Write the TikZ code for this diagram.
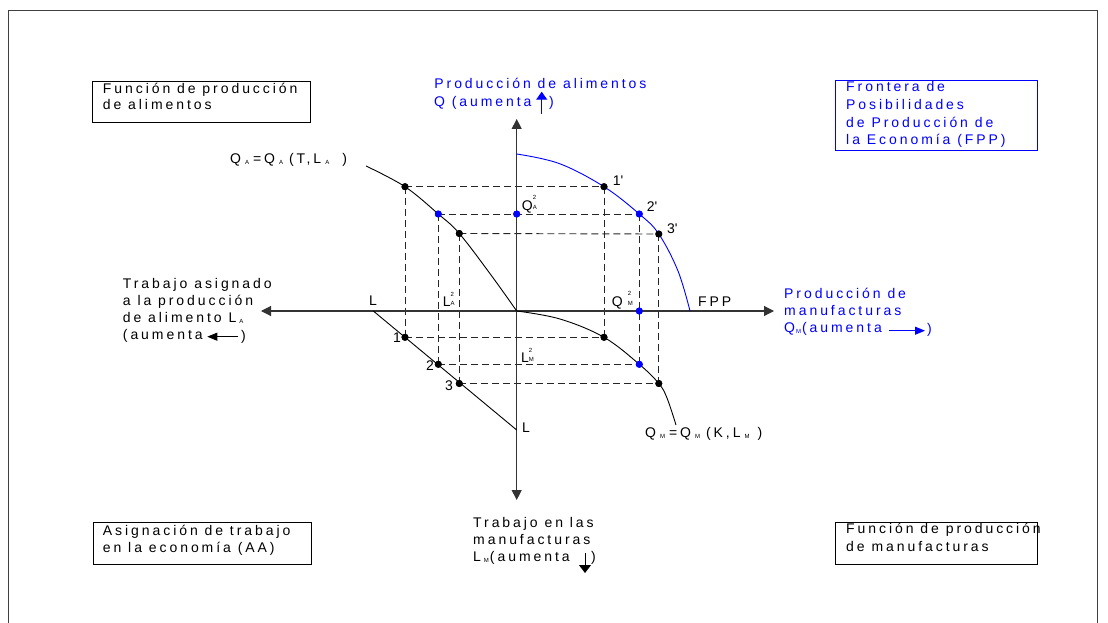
\documentclass[tikz,border=0pt]{standalone}
\usepackage{fontspec}
\setmainfont[LetterSpace=21]{Liberation Sans}
\usetikzlibrary{arrows.meta}
\definecolor{fppblue}{RGB}{0,0,255}
\newcommand\lo[1]{\raisebox{-1.5pt}{\fontsize{6}{6}\selectfont #1}}
\newcommand\ud[2]{\raisebox{1pt}{\fontsize{6}{6}\selectfont\shortstack[l]{#1\\[2.5pt]#2}}}
\newcommand\lns[1]{\begin{tabular}[t]{@{}l@{}}#1\end{tabular}}
\begin{document}
\begin{tikzpicture}[x=1pt,y=-1pt,
  txt/.style={anchor=base west,inner sep=0pt,font=\fontsize{14}{17}\selectfont},
  txtr/.style={anchor=base east,inner sep=0pt,font=\fontsize{14}{17}\selectfont},
  frame/.style={draw=black!75,line width=0.8pt},
  box/.style={draw=black,line width=0.9pt},
  axis/.style={draw=black!80,line width=1.1pt},
  guide/.style={draw=black!85,line width=0.9pt,dash pattern=on 7pt off 4pt},
  curve/.style={draw=black,line width=0.9pt},
  dot/.style={circle,fill=black,inner sep=0pt,minimum size=7pt},
  bdot/.style={circle,fill=fppblue,inner sep=0pt,minimum size=7pt}]
\useasboundingbox (0,0) rectangle (1108,623);
% outer frame
\draw[frame] (8,623) -- (8,10) -- (1097,10) -- (1097,623);
% boxes
\draw[box] (92.7,81) rectangle (310,122.7);
\draw[box,draw=fppblue] (835.7,80.7) rectangle (1037,150);
\draw[box] (93.3,522.3) rectangle (311,564);
\draw[box] (835.7,522.3) rectangle (1037,564);
% coordinates
\coordinate (O) at (516.7,311);
\coordinate (yt) at (516.7,119);
\coordinate (yb) at (516.7,500);
\coordinate (xl) at (261,311);
\coordinate (xr) at (774,311);
% dots (nodes)
\node[dot]  (a1) at (405,186.7) {};
\node[bdot] (a2) at (438.3,214) {};
\node[dot]  (a3) at (459.3,233.5) {};
\node[dot]  (f1) at (604,186.7) {};
\node[bdot] (f2) at (639.3,214) {};
\node[dot]  (f3) at (658.8,234) {};
\node[dot]  (l1) at (405,337.3) {};
\node[dot]  (l2) at (438.3,364.3) {};
\node[dot]  (l3) at (459.3,383.5) {};
\node[dot]  (m1) at (604,337.3) {};
\node[bdot] (m2) at (639.3,364.3) {};
\node[dot]  (m3) at (658.8,383.5) {};
\node[bdot] (qa) at (516.7,214) {};
\node[bdot] (qm) at (639.3,311) {};
% dashed guides
\draw[guide] (a1.center) -- (f1.center);
\draw[guide] (a2.center) -- (f2.center);
\draw[guide] (a3.center) -- (f3.center);
\draw[guide] (l1.center) -- (m1.center);
\draw[guide] (l2.center) -- (m2.center);
\draw[guide] (l3.center) -- (m3.center);
\draw[guide] (a1.center) -- (l1.center);
\draw[guide] (a2.center) -- (l2.center);
\draw[guide] (a3.center) -- (l3.center);
\draw[guide] (f1.center) -- (m1.center);
\draw[guide] (f2.center) -- (m2.center);
\draw[guide] (f3.center) -- (m3.center);
% axes
\draw[axis,{Triangle[length=10pt,width=10pt]}-{Triangle[length=10pt,width=10pt]}] (xl) -- (xr);
\draw[axis,{Triangle[length=10pt,width=10pt]}-{Triangle[length=10pt,width=10pt]}] (yb) -- (yt);
% curves
\draw[curve,draw=fppblue] plot[smooth,tension=0.6] coordinates {(516.7,154) (559.4,163.6) (604,186.7) (639.3,214) (658.8,234) (678,271) (690,311)};
\draw[curve] plot[smooth,tension=0.6] coordinates {(366,166) (405,186.7) (438.3,214) (459.3,233.5) (491,275) (516.7,311)};
\draw[curve] plot[smooth,tension=0.6] coordinates {(516.7,311) (560,319) (604,337.3) (639.3,364.3) (658.8,383.5) (667,398) (676,425)};
\coordinate (Lh) at (373.3,311);
\coordinate (Lv) at (516.7,430);
\draw[curve] (Lh) -- (Lv);
% redraw dots on top
\foreach \n in {a1,a3,f1,f3,l1,l2,l3,m1,m3} \fill (\n) circle (3.5pt);
\foreach \n in {a2,f2,m2,qa,qm} \fill[fppblue] (\n) circle (3.5pt);
% point labels
\node[txt] (p1) at (612.7,185) {1\textquotesingle};
\node[txt] (p2) at (646.7,211.7) {2\textquotesingle};
\node[txt] (p3) at (667,233) {3\textquotesingle};
\node[txt] (n1) at (393,342.7) {1};
\node[txt] (n2) at (426,370) {2};
\node[txt] (n3) at (445,390) {3};
\node[txt] (fpp) at (698,306) {FPP};
\node[txt] (Ll) at (369,305) {L};
\node[txt] (Lb) at (522,432) {L};
\node[txt] (LA) at (442.7,306.7) {L\ud{2}{A}};
\node[txt] (QM2) at (611.7,306) {Q\hspace{5pt}\ud{2}{M}};
\node[txt] (QA2) at (521.7,210) {Q\ud{2}{A}};
\node[txt] (LM2) at (521,362.7) {L\ud{2}{M}};
\node[txt] (fqa) at (230,163) {Q\hspace{4pt}\lo{A}\hspace{4pt}=Q\hspace{4pt}\lo{A}\hspace{6pt}(T,L\hspace{4pt}\lo{A}\hspace{13pt})};
\node[txt] (fqm) at (645,437) {Q\hspace{4pt}\lo{M}\hspace{4pt}=Q\hspace{4pt}\lo{M}\hspace{6pt}(K,L\hspace{4pt}\lo{M}\hspace{8pt})};
% box texts
\node[txt,font=\fontsize{14}{16}\selectfont] (t1) at (102.7,93.3) {\lns{Función de producción\\de alimentos}};
\node[txt,text=fppblue,font=\fontsize{14}{17.7}\selectfont] (t2) at (846,91.7) {\lns{Frontera de\\Posibilidades\\de Producción de\\la Economía (FPP)}};
\node[txt,font=\fontsize{14}{16.6}\selectfont] (t3) at (102.7,535.7) {\lns{Asignación de trabajo\\en la economía (AA)}};
\node[txt,font=\fontsize{14}{18}\selectfont] (t4) at (846,533) {\lns{Función de producción\\de manufacturas}};
% top centre label
\node[txtr,text=fppblue] (tc1) at (646.7,89) {Producción de alimentos};
\node[txtr,text=fppblue] (tc2) at (531.7,106.7) {Q (aumenta};
\node[txt,text=fppblue] (tc3) at (549,106.7) {)};
\coordinate (tca) at (541.7,114);
\coordinate (tcb) at (541.7,91.7);
\draw[fppblue,line width=0.9pt,-{Triangle[length=8pt,width=11pt]}] (tca) -- (tcb);
% left label
\node[txt] (lt) at (122.7,288) {\lns{Trabajo asignado\\a la producción\\de alimento L\hspace{3pt}\lo{A}\\(aumenta}};
\node[txt] (lt2) at (241,340) {)};
\coordinate (lta) at (238.3,336.7);
\coordinate (ltb) at (207.3,336.7);
\draw[line width=0.9pt,-{Triangle[length=10pt,width=8pt]}] (lta) -- (ltb);
% right label
\node[txt,text=fppblue] (rt) at (784,298) {\lns{Producción de\\manufacturas\\Q\hspace{1pt}\lo{M}\hspace{1pt}(aumenta}};
\node[txt,text=fppblue] (rt2) at (927,333) {)};
\coordinate (rta) at (889,330.7);
\coordinate (rtb) at (925,330.7);
\draw[fppblue,line width=0.9pt,-{Triangle[length=10pt,width=8pt]}] (rta) -- (rtb);
% bottom label
\node[txt,font=\fontsize{14}{16.7}\selectfont] (bt) at (473,527.7) {\lns{Trabajo en las\\manufacturas\\L\hspace{3pt}\lo{M}\hspace{1pt}(aumenta}};
\node[txt] (bt2) at (591,561) {)};
\coordinate (bta) at (585,553);
\coordinate (btb) at (585,573);
\draw[line width=0.9pt,-{Triangle[length=8pt,width=12pt]}] (bta) -- (btb);
\end{tikzpicture}
\end{document}
